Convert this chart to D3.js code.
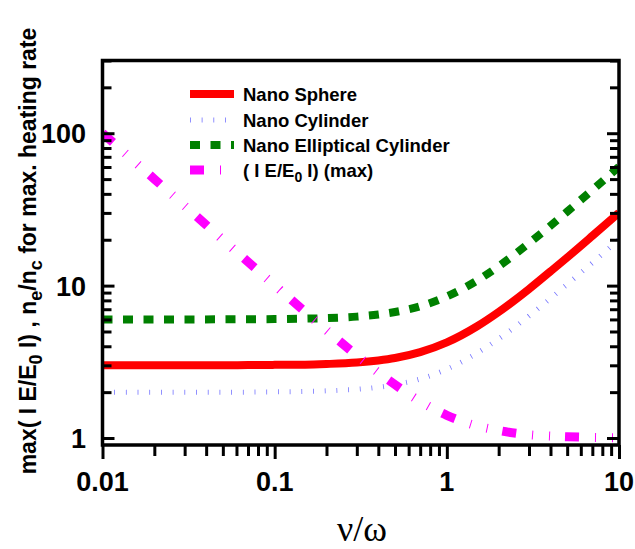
<!DOCTYPE html>
<html>
<head>
<meta charset="utf-8">
<script src="https://cdn.jsdelivr.net/npm/d3@7"></script>
<style>
  html, body { margin: 0; padding: 0; background: #fff; }
  svg { display: block; }
  text { font-family: "Liberation Sans", Arial, sans-serif; font-weight: bold; fill: #000; }
</style>
</head>
<body>
<svg id="chart" width="635" height="549"></svg>
<script>
// ---- data ----
const nuOverOmega = [0.01, 0.015, 0.02, 0.03, 0.05, 0.07, 0.1, 0.15, 0.2, 0.3, 0.4, 0.5, 0.7, 1, 1.5, 2, 3, 4, 5, 7, 10];
const nanoSphere = [3.0, 3.0, 3.0, 3.0, 3.0, 3.01, 3.02, 3.03, 3.06, 3.13, 3.23, 3.35, 3.66, 4.24, 5.41, 6.71, 9.49, 12.4, 15.3, 21.2, 30.1];
const nanoCylinder = [2.0, 2.0, 2.0, 2.0, 2.0, 2.0, 2.01, 2.02, 2.04, 2.09, 2.15, 2.24, 2.44, 2.83, 3.61, 4.47, 6.32, 8.25, 10.2, 14.1, 20.1];
const nanoElliptical = [6.0, 6.0, 6.0, 6.0, 6.01, 6.02, 6.03, 6.07, 6.12, 6.26, 6.46, 6.71, 7.32, 8.49, 10.8, 13.4, 19.0, 24.7, 30.6, 42.4, 60.3];
const fieldMax = [100, 66.7, 50.0, 33.4, 20.0, 14.3, 10.05, 6.74, 5.10, 3.48, 2.69, 2.24, 1.74, 1.41, 1.20, 1.12, 1.05, 1.03, 1.02, 1.01, 1.005];
const seriesNames = ["Nano Sphere", "Nano Cylinder", "Nano Elliptical Cylinder", "( I E/E0 I) (max)"];
const xTickLabels = ["0.01", "0.1", "1", "10"];
const yTickLabels = ["1", "10", "100"];

// ---- layout ----
const svg = d3.select("#chart");
const pL = 102.5, pR = 619, pT = 60.5, pB = 445;
const x = d3.scaleLog().domain([0.01, 10]).range([pL, pR]);
const y = d3.scaleLog().domain([0.9, 300]).range([pB, pT]);

const series = [
  { name: seriesNames[0], values: nanoSphere, color: "#ff0000", width: 8, dash: null, opacity: 1 },
  { name: seriesNames[1], values: nanoCylinder, color: "#0000ff", width: 5, dash: "0.8 10.9", opacity: 0.55 },
  { name: seriesNames[2], values: nanoElliptical, color: "#008000", width: 8, dash: "10 10.5", opacity: 1 },
  { name: seriesNames[3], values: fieldMax, color: "#ff00ff", width: 9, dash: "14 16 1 16 1 15", opacity: 1 }
];

const line = d3.line()
  .x(d => x(d[0]))
  .y(d => y(d[1]))
  .curve(d3.curveMonotoneX);

svg.append("clipPath").attr("id", "clip")
  .append("rect").attr("x", pL).attr("y", pT).attr("width", pR - pL).attr("height", pB - pT);

const plot = svg.append("g").attr("clip-path", "url(#clip)");
series.forEach(s => {
  plot.append("path")
    .datum(nuOverOmega.map((v, i) => [v, s.values[i]]))
    .attr("d", line)
    .attr("fill", "none")
    .attr("stroke", s.color)
    .attr("stroke-width", s.width)
    .attr("stroke-dasharray", s.dash)
    .attr("stroke-opacity", s.opacity);
});

// ---- axes ----
const xTicks = [];
[0.01, 0.1, 1].forEach(d => { for (let k = 1; k <= 9; k++) xTicks.push(+(d * k).toPrecision(3)); });
xTicks.push(10);
const yTicks = [];
[1, 10, 100].forEach(d => { for (let k = 1; k <= 9; k++) { const v = d * k; if (v <= 300) yTicks.push(v); } });

const isMajor = v => Math.abs(Math.log10(v) - Math.round(Math.log10(v))) < 1e-6;

const bottomAxis = d3.axisBottom(x).tickValues(xTicks).tickFormat("").tickSizeOuter(0).tickSize(14);
const gB = svg.append("g").attr("transform", `translate(0,${pB})`).call(bottomAxis);
gB.selectAll(".tick line").attr("y2", d => isMajor(d) ? 14 : 11);

const leftAxis = d3.axisLeft(y).tickValues(yTicks).tickFormat("").tickSizeOuter(0).tickSize(-12);
const gL = svg.append("g").attr("transform", `translate(${pL},0)`).call(leftAxis);
gL.selectAll(".tick line").attr("x2", d => isMajor(d) ? 12 : 9);

const rightAxis = d3.axisRight(y).tickValues(yTicks).tickFormat("").tickSizeOuter(0).tickSize(-12);
const gR = svg.append("g").attr("transform", `translate(${pR},0)`).call(rightAxis);
gR.selectAll(".tick line").attr("x2", d => isMajor(d) ? -12 : -9);

[gB, gL, gR].forEach(g => {
  g.select(".domain").remove();
  g.selectAll(".tick line").attr("stroke", "#000").attr("stroke-width", 3);
});

svg.append("rect")
  .attr("x", pL).attr("y", pT).attr("width", pR - pL).attr("height", pB - pT)
  .attr("fill", "none").attr("stroke", "#000").attr("stroke-width", 3.5);

// tick labels
svg.append("g").selectAll("text").data(xTickLabels).join("text")
  .attr("x", d => x(+d)).attr("y", 491)
  .attr("text-anchor", "middle").attr("font-size", 27)
  .text(d => d);

svg.append("g").selectAll("text").data(yTickLabels).join("text")
  .attr("x", 86).attr("y", d => y(+d) + 10)
  .attr("text-anchor", "end").attr("font-size", 27)
  .text(d => d);

// x title
svg.append("text")
  .attr("x", 362).attr("y", 541)
  .attr("text-anchor", "middle")
  .style("font-family", "'Liberation Serif', 'Times New Roman', serif")
  .style("font-weight", "normal")
  .attr("font-size", 36)
  .text("ν/ω");

// y title
const yt = svg.append("text")
  .attr("transform", "translate(36,251) rotate(-90)")
  .attr("text-anchor", "middle")
  .attr("font-size", 23);
yt.append("tspan").text("max( I E/E");
yt.append("tspan").attr("dy", 6).attr("font-size", 18).text("0");
yt.append("tspan").attr("dy", -6).text(" I) , n");
yt.append("tspan").attr("dy", 6).attr("font-size", 18).text("e");
yt.append("tspan").attr("dy", -6).text("/n");
yt.append("tspan").attr("dy", 6).attr("font-size", 18).text("c");
yt.append("tspan").attr("dy", -6).text(" for max. heating rate");

// legend
const legRows = [94, 120, 145, 170];
const leg = svg.append("g");
series.forEach((s, i) => {
  leg.append("line")
    .attr("x1", 190).attr("x2", 234).attr("y1", legRows[i]).attr("y2", legRows[i])
    .attr("stroke", s.color).attr("stroke-width", s.width)
    .attr("stroke-dasharray", s.dash).attr("stroke-opacity", s.opacity);
  const t = leg.append("text").attr("x", 243).attr("y", legRows[i] + 6.5).attr("font-size", 18.5);
  if (i === 3) {
    t.append("tspan").text("( I E/E");
    t.append("tspan").attr("dy", 5).attr("font-size", 14).text("0");
    t.append("tspan").attr("dy", -5).text(" I) (max)");
  } else {
    t.text(s.name);
  }
});
</script>
</body>
</html>
